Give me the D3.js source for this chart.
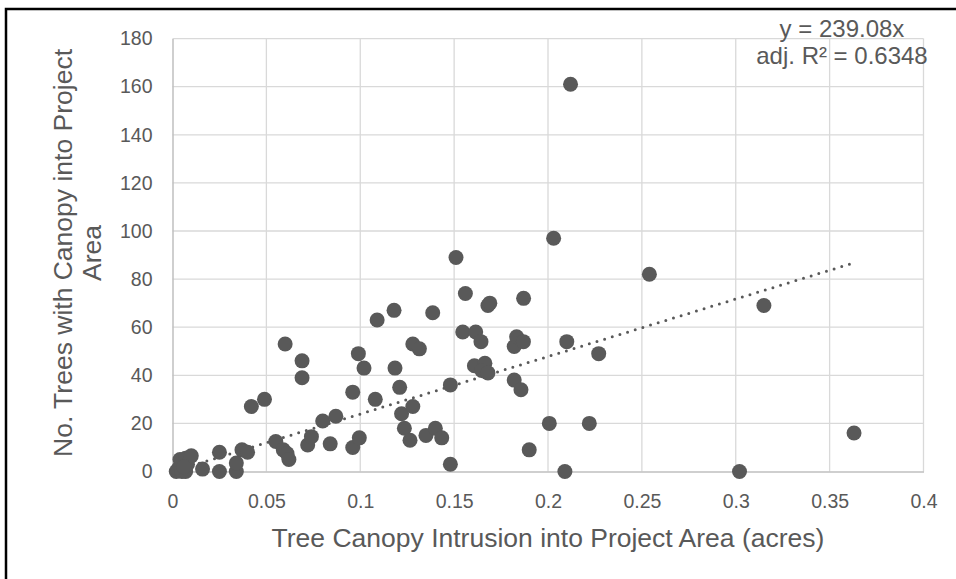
<!DOCTYPE html>
<meta charset="utf-8" />
<script src="https://d3js.org/d3.v7.min.js"></script>
<style>
	body { margin: 0; background: #fff; }
	text { font-family: 'Liberation Sans', Arial, sans-serif; fill: #595959; }
</style>
<div id="my_dataviz"></div>
<script>
	// data
	var xVals = [0.002, 0.003, 0.004, 0.005, 0.004, 0.007, 0.007, 0.008, 0.010, 0.006,
		0.016, 0.025, 0.025, 0.034, 0.034, 0.037, 0.040, 0.042, 0.049, 0.055,
		0.059, 0.060, 0.061, 0.062, 0.069, 0.069, 0.072, 0.074, 0.080, 0.084,
		0.087, 0.096, 0.096, 0.099, 0.0995, 0.102, 0.108, 0.109, 0.118, 0.1185,
		0.121, 0.122, 0.1235, 0.1265, 0.128, 0.128, 0.1315, 0.135, 0.1386, 0.140,
		0.1434, 0.148, 0.148, 0.151, 0.1546, 0.156, 0.1608, 0.1615, 0.1643, 0.1664,
		0.1647, 0.168, 0.168, 0.169, 0.182, 0.182, 0.1833, 0.1856, 0.187, 0.1869,
		0.190, 0.2007, 0.203, 0.209, 0.210, 0.212, 0.222, 0.227, 0.254, 0.302,
		0.315, 0.363];
	var yVals = [0, 1, 2, 0, 5, 5.5, 0, 3, 6.5, 2,
		1, 8, 0, 0, 3.5, 9, 8, 27, 30, 12.5,
		9, 53, 7.5, 5, 46, 39, 11, 14.5, 21, 11.5,
		23, 10, 33, 49, 14, 43, 30, 63, 67, 43,
		35, 24, 18, 13, 27, 53, 51, 15, 66, 18,
		14, 36, 3, 89, 58, 74, 44, 58, 54, 45,
		42, 41, 69, 70, 38, 52, 56, 34, 72, 54,
		9, 20, 97, 0, 54, 161, 20, 49, 82, 0,
		69, 16];
	var xTicks = [0, 0.05, 0.1, 0.15, 0.2, 0.25, 0.3, 0.35, 0.4];
	var yTicks = [0, 20, 40, 60, 80, 100, 120, 140, 160, 180];
	var slope = 239.08;
	var eqLabel = 'y = 239.08x';
	var r2Label = 'adj. R\u00B2 = 0.6348';

	var width = 956, height = 579;
	var svg = d3.select('#my_dataviz').append('svg')
		.attr('width', width).attr('height', height);

	// outer frame
	svg.append('rect')
		.attr('x', 6).attr('y', 9).attr('width', 1000).attr('height', 1000)
		.attr('fill', 'none').attr('stroke', '#000').attr('stroke-width', 2.5);

	var x = d3.scaleLinear().domain([0, 0.4]).range([172.5, 923.5]);
	var y = d3.scaleLinear().domain([0, 180]).range([471.5, 38.6]);

	// gridlines
	svg.append('g').selectAll('line').data(xTicks.slice(1)).enter().append('line')
		.attr('x1', function (d) { return x(d); }).attr('x2', function (d) { return x(d); })
		.attr('y1', y(0)).attr('y2', y(180))
		.attr('stroke', '#d9d9d9').attr('stroke-width', 1.3);
	svg.append('g').selectAll('line').data(yTicks.slice(1)).enter().append('line')
		.attr('x1', x(0)).attr('x2', x(0.4))
		.attr('y1', function (d) { return y(d); }).attr('y2', function (d) { return y(d); })
		.attr('stroke', '#d9d9d9').attr('stroke-width', 1.3);

	// axes lines and labels
	var xAxis = svg.append('g').attr('transform', 'translate(0,' + y(0) + ')')
		.call(d3.axisBottom(x).tickValues(xTicks).tickSize(0).tickPadding(23)
			.tickFormat(function (d) { return String(d); }));
	var yAxis = svg.append('g').attr('transform', 'translate(' + x(0) + ',0)')
		.call(d3.axisLeft(y).tickValues(yTicks).tickSize(0).tickPadding(20));
	[xAxis, yAxis].forEach(function (g) {
		g.select('.domain').attr('stroke', '#bfbfbf').attr('stroke-width', 1.5);
		g.selectAll('text').style('font-size', '19.5px').attr('fill', '#595959')
			.style('font-family', "'Liberation Sans', Arial, sans-serif");
	});

	// trendline
	var xExt = d3.extent(xVals);
	svg.append('line')
		.attr('x1', x(xExt[0])).attr('y1', y(slope * xExt[0]))
		.attr('x2', x(xExt[1])).attr('y2', y(slope * xExt[1]))
		.attr('stroke', '#595959').attr('stroke-width', 3)
		.attr('stroke-linecap', 'round').attr('stroke-dasharray', '0 8');

	// dots
	svg.append('g').selectAll('circle').data(xVals).enter().append('circle')
		.attr('cx', function (d) { return x(d); })
		.attr('cy', function (d, i) { return y(yVals[i]); })
		.attr('r', 7.5)
		.attr('fill', '#595959');

	// axis titles
	svg.append('text')
		.attr('x', 548).attr('y', 547)
		.attr('text-anchor', 'middle').style('font-size', '26.5px')
		.text('Tree Canopy Intrusion into Project Area (acres)');
	var yt = svg.append('text')
		.attr('text-anchor', 'middle').style('font-size', '26.5px')
		.attr('transform', 'translate(72,253)rotate(-90)');
	yt.append('tspan').attr('x', 0).attr('y', 0).text('No. Trees with Canopy into Project');
	yt.append('tspan').attr('x', 0).attr('y', 29).text('Area');

	// regression label
	svg.append('text').attr('x', 842).attr('y', 37)
		.attr('text-anchor', 'middle').style('font-size', '24px').text(eqLabel);
	svg.append('text').attr('x', 842).attr('y', 64)
		.attr('text-anchor', 'middle').style('font-size', '24px').text(r2Label);
</script>
